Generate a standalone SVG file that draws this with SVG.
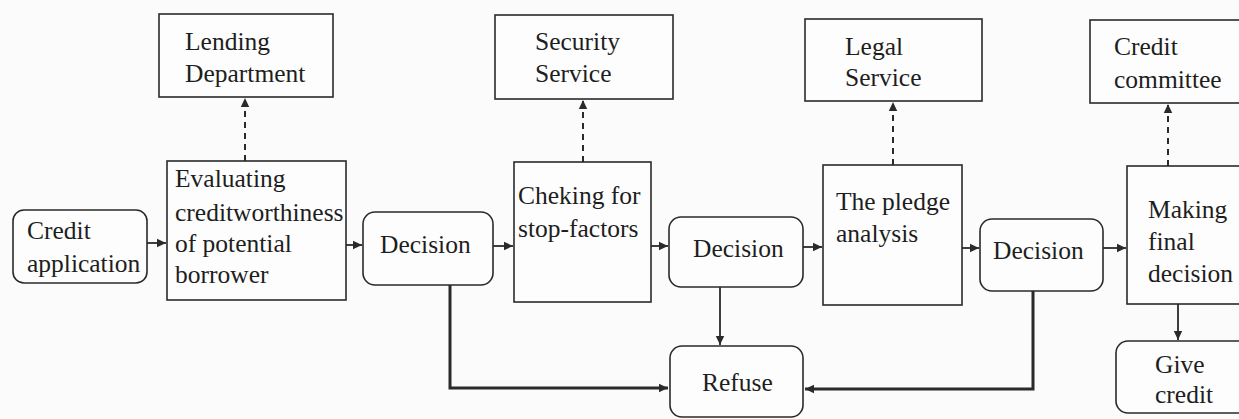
<svg xmlns="http://www.w3.org/2000/svg" width="1239" height="419" viewBox="0 0 1239 419" font-family="'Liberation Serif', 'Times New Roman', serif">
<style>
.box{fill:#fdfdfd;stroke:#2a2a2a;stroke-width:1.6}
text{font-size:25.5px;fill:#1e1e1e}
.c{fill:none;stroke:#2a2a2a;stroke-width:1.8}
.thick{stroke-width:3}
.dash{stroke-dasharray:6 5;stroke-width:2}
</style>
<defs>
<marker id="ah" markerUnits="userSpaceOnUse" markerWidth="10" markerHeight="10" refX="9" refY="5" orient="auto">
<path d="M0,0.8 L9,5 L0,9.2 z" fill="#2a2a2a"/>
</marker>
</defs>
<rect width="1239" height="419" fill="#fbfbfb"/>
<g id="connectors">
<line class="c" x1="147" y1="243" x2="166" y2="243" marker-end="url(#ah)"/>
<line class="c" x1="346" y1="245" x2="362" y2="245" marker-end="url(#ah)"/>
<line class="c" x1="493" y1="246" x2="513" y2="246" marker-end="url(#ah)"/>
<line class="c" x1="651" y1="246" x2="668" y2="246" marker-end="url(#ah)"/>
<line class="c" x1="803" y1="247" x2="822" y2="247" marker-end="url(#ah)"/>
<line class="c" x1="962" y1="248" x2="979" y2="248" marker-end="url(#ah)"/>
<line class="c" x1="1103" y1="248" x2="1126" y2="248" marker-end="url(#ah)"/>
<line class="c dash" x1="245" y1="161" x2="245" y2="98" marker-end="url(#ah)"/>
<line class="c dash" x1="583" y1="162" x2="583" y2="100" marker-end="url(#ah)"/>
<line class="c dash" x1="893" y1="165" x2="893" y2="102" marker-end="url(#ah)"/>
<line class="c dash" x1="1168" y1="166" x2="1168" y2="104" marker-end="url(#ah)"/>
<line class="c" x1="720" y1="287" x2="720" y2="345" marker-end="url(#ah)"/>
<line class="c" x1="1178" y1="304" x2="1178" y2="340" marker-end="url(#ah)"/>
<path class="c thick" d="M450,285 V388 H668" marker-end="url(#ah)"/>
<path class="c thick" d="M1033,291 V389 H805" marker-end="url(#ah)"/>
</g>
<g id="credit-application">
<rect class="box" x="13" y="210" width="134" height="73" rx="11"/>
<text x="27" y="239">Credit</text>
<text x="27" y="272">application</text>
</g>
<g id="evaluating">
<rect class="box" x="167" y="161" width="179" height="139"/>
<text x="175" y="187">Evaluating</text>
<text x="175" y="221">creditworthiness</text>
<text x="175" y="252">of potential</text>
<text x="175" y="283">borrower</text>
</g>
<g id="lending-department">
<rect class="box" x="159" y="14" width="174" height="83"/>
<text x="185" y="50">Lending</text>
<text x="185" y="82">Department</text>
</g>
<g id="decision1">
<rect class="box" x="363" y="212" width="130" height="73" rx="12"/>
<text x="380" y="253">Decision</text>
</g>
<g id="security-service">
<rect class="box" x="495" y="15" width="178" height="84"/>
<text x="535" y="50">Security</text>
<text x="535" y="82">Service</text>
</g>
<g id="checking">
<rect class="box" x="514" y="162" width="137" height="140"/>
<text x="518" y="204">Cheking for</text>
<text x="518" y="237">stop-factors</text>
</g>
<g id="decision2">
<rect class="box" x="669" y="217" width="134" height="70" rx="12"/>
<text x="693" y="257">Decision</text>
</g>
<g id="legal-service">
<rect class="box" x="805" y="19" width="177" height="82"/>
<text x="845" y="55">Legal</text>
<text x="845" y="86">Service</text>
</g>
<g id="pledge">
<rect class="box" x="823" y="165" width="139" height="140"/>
<text x="836" y="210">The pledge</text>
<text x="836" y="242">analysis</text>
</g>
<g id="decision3">
<rect class="box" x="980" y="219" width="123" height="72" rx="12"/>
<text x="993" y="259">Decision</text>
</g>
<g id="credit-committee">
<rect class="box" x="1090" y="20" width="160" height="83"/>
<text x="1114" y="55">Credit</text>
<text x="1114" y="88">committee</text>
</g>
<g id="making-final-decision">
<rect class="box" x="1127" y="166" width="130" height="138"/>
<text x="1148" y="218">Making</text>
<text x="1148" y="250">final</text>
<text x="1148" y="282">decision</text>
</g>
<g id="give-credit">
<rect class="box" x="1116" y="341" width="140" height="72" rx="12"/>
<text x="1155" y="373">Give</text>
<text x="1155" y="403">credit</text>
</g>
<g id="refuse">
<rect class="box" x="670" y="346" width="133" height="71" rx="12"/>
<text x="702" y="391">Refuse</text>
</g>
</svg>
